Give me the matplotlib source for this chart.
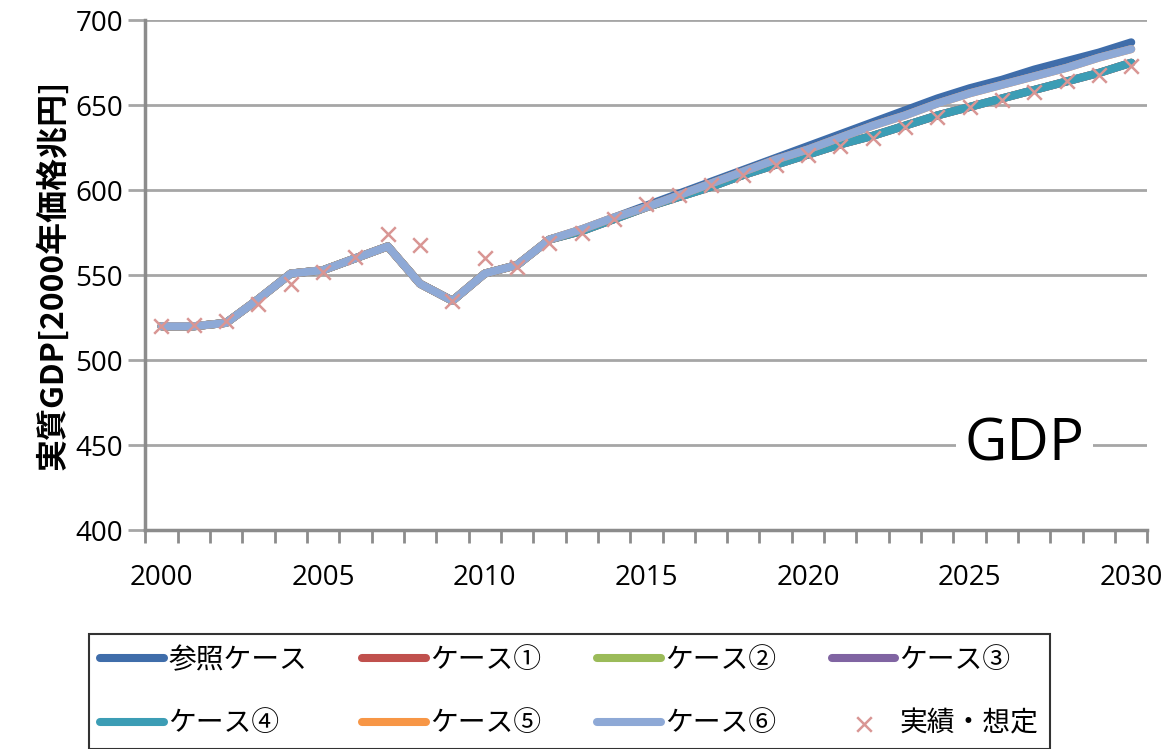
import matplotlib.pyplot as plt
from matplotlib.ticker import FixedLocator

# -------------------------------------------------------
# Data
# -------------------------------------------------------
years = list(range(2000, 2031))

# common historical part 2000-2012
hist = [520, 520, 522, 536, 551, 553, 560, 567, 545, 535, 551, 556, 571]

ref_future = [577, 584, 591, 598, 605, 612, 619, 626, 633, 640, 647, 654,
              660, 665, 671, 676, 681, 687]
c6_future = [577, 584, 590, 597, 604, 611, 618, 624, 631, 638, 644, 651,
             657, 662, 667, 672, 678, 683]
c4_future = [576, 583, 590, 596, 602, 609, 615, 621, 627, 632, 638, 644,
             649, 654, 659, 664, 669, 675]

ref_case = hist + ref_future
case1 = hist + c4_future
case2 = hist + c4_future
case3 = hist + c4_future
case4 = hist + c4_future
case5 = hist + c6_future
case6 = hist + c6_future

actual = [520, 521, 523, 533, 545, 552, 561, 574, 568, 535, 560, 555, 569,
          575, 583, 592, 597, 603, 609, 615, 621, 626, 631, 637, 643, 649,
          653, 658, 664, 668, 673]

series_labels = ["参照ケース", "ケース①", "ケース②", "ケース③",
                 "ケース④", "ケース⑤", "ケース⑥"]
series_colors = ["#3F6DAA", "#C0504D", "#9BBB59", "#8064A2",
                 "#3C9DB5", "#F79646", "#8EA9D6"]
series_values = [ref_case, case1, case2, case3, case4, case5, case6]

marker_label = "実績・想定"
marker_color = "#D99694"

y_ticks = [400, 450, 500, 550, 600, 650, 700]
x_labels = [2000, 2005, 2010, 2015, 2020, 2025, 2030]

# -------------------------------------------------------
# Plot
# -------------------------------------------------------
plt.rcParams["font.family"] = ["Noto Sans CJK JP", "DejaVu Sans"]

fig = plt.figure(figsize=(11.72, 7.49), dpi=100)
ax = fig.add_axes([0.124, 0.292, 0.855, 0.681])

handles = []
for vals, lab, col in zip(series_values, series_labels, series_colors):
    h, = ax.plot(years, vals, color=col, lw=5.8, label=lab,
                 solid_capstyle="round", solid_joinstyle="round", zorder=3)
    handles.append(h)

mh = ax.scatter(years, actual, marker="x", s=110, color=marker_color,
                linewidths=1.8, label=marker_label, zorder=4)
handles.append(mh)

ax.set_xlim(1999.5, 2030.5)
ax.set_ylim(400, 700)
ax.set_yticks(y_ticks)
ax.yaxis.grid(True, color="#A6A6A6", lw=2)
ax.set_axisbelow(True)

ax.xaxis.set_major_locator(FixedLocator(x_labels))
ax.xaxis.set_minor_locator(FixedLocator([y + 0.5 for y in range(1999, 2031)]))
ax.tick_params(axis="x", which="major", length=0, pad=24, labelsize=20)
ax.tick_params(axis="x", which="minor", length=9, width=2, color="#8C8C8C")
ax.tick_params(axis="y", length=12, width=2, color="#A6A6A6", labelsize=20,
               pad=4)
for lbl in ax.get_xticklabels() + ax.get_yticklabels():
    lbl.set_family(["Open Sans", "DejaVu Sans"])

for s in ["top", "right"]:
    ax.spines[s].set_visible(False)
ax.spines["left"].set_color("#8C8C8C")
ax.spines["left"].set_linewidth(2.5)
ax.spines["bottom"].set_color("#8C8C8C")
ax.spines["bottom"].set_linewidth(2.5)

ax.set_ylabel("実質GDP[2000年価格兆円]", fontsize=23, fontweight="bold",
              labelpad=4)

ax.text(2026.7, 450, "GDP", fontsize=42, ha="center", va="center",
        family=["Open Sans", "DejaVu Sans"],
        bbox=dict(facecolor="white", edgecolor="none", pad=6), zorder=5)

# legend filled row-wise: reorder for column-first filling
order = [0, 4, 1, 5, 2, 6, 3, 7]
leg = fig.legend([handles[i] for i in order],
                 [h.get_label() for h in [handles[i] for i in order]],
                 ncol=4, loc="upper left",
                 bbox_to_anchor=(0.064, 1 - 620 / 749),
                 fontsize=20, frameon=True, fancybox=False,
                 edgecolor="black", handlelength=2.3, handletextpad=0.15,
                 columnspacing=2.0, labelspacing=1.2, borderpad=0.4)
leg.get_frame().set_linewidth(1.5)

fig.savefig("out.png", dpi=100)
